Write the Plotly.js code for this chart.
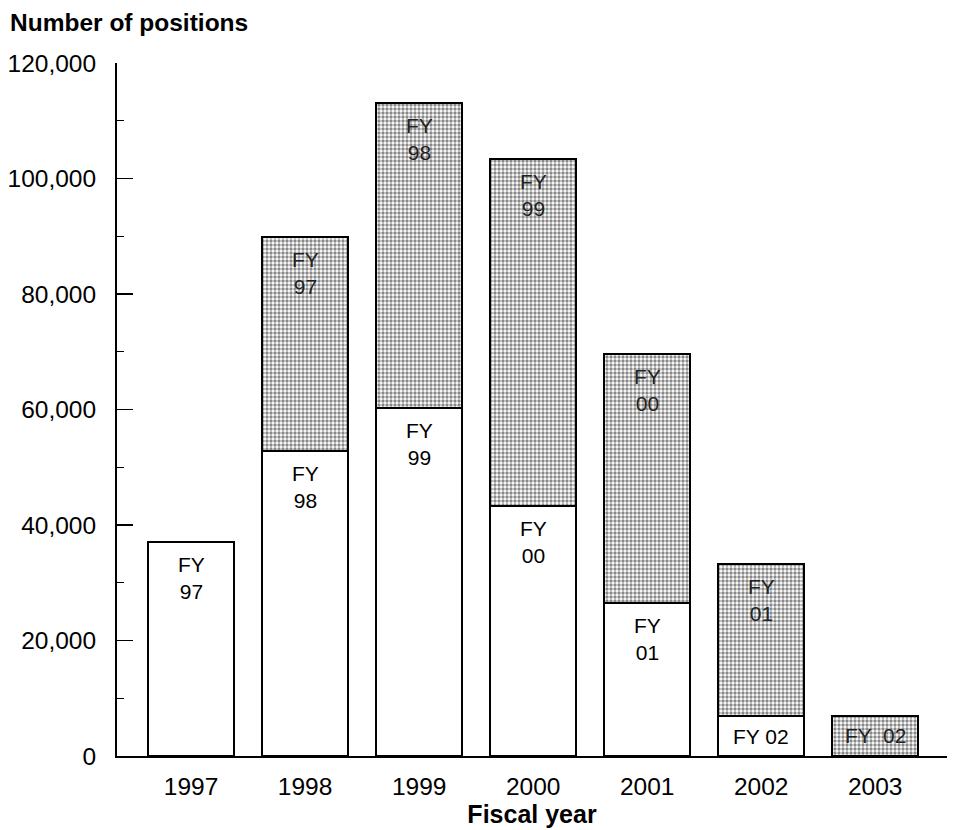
<!DOCTYPE html>
<html>
<head>
<meta charset="utf-8">
<script src="https://cdn.plot.ly/plotly-3.0.1.min.js"></script>
<style>html,body{margin:0;padding:0;background:#fff;}#chart{width:957px;height:830px;}</style>
</head>
<body>
<div id="chart"></div>
<script>
var years = ['1997', '1998', '1999', '2000', '2001', '2002', '2003'];
// positions funded by the current fiscal year (white segment)
var currentYear = [37000, 52800, 60300, 43300, 26500, 6900, null];
// positions carried over from the prior fiscal year (shaded segment)
var carryOver = [null, 37000, 52700, 60100, 43100, 26300, 7000];
var currentLabels = ['FY<br>97', 'FY<br>98', 'FY<br>99', 'FY<br>00', 'FY<br>01', 'FY 02', ''];
var carryLabels = ['', 'FY<br>97', 'FY<br>98', 'FY<br>99', 'FY<br>00', 'FY<br>01', 'FY  02'];
var yTicks = [0, 20000, 40000, 60000, 80000, 100000, 120000];

var FONT = 'Liberation Sans, Arial, Helvetica, sans-serif';

var traces = [
  {
    type: 'bar', x: years, y: currentYear, name: 'Current FY',
    marker: {color: '#ffffff', line: {color: '#000', width: 2}},
    hoverinfo: 'skip'
  },
  {
    type: 'bar', x: years, y: carryOver, name: 'Prior FY',
    marker: {
      color: '#ffffff', line: {color: '#000', width: 2},
      pattern: {shape: '.', fillmode: 'overlay', fgcolor: '#111', size: 4, solidity: 0.55}
    },
    hoverinfo: 'skip'
  }
];

var annotations = [];
years.forEach(function (yr, i) {
  var c = currentYear[i] || 0;
  var p = carryOver[i] || 0;
  if (currentLabels[i]) {
    var single = currentLabels[i].indexOf('<br>') < 0;
    annotations.push({x: i, y: single ? c / 2 : c, xref: 'x', yref: 'y', text: currentLabels[i], showarrow: false,
      yanchor: single ? 'middle' : 'top', yshift: single ? 0 : -9,
      font: {family: FONT, size: 21, color: '#000'}});
  }
  if (carryLabels[i]) {
    var single2 = carryLabels[i].indexOf('<br>') < 0;
    annotations.push({x: i, y: single2 ? c + p / 2 : c + p, xref: 'x', yref: 'y', text: carryLabels[i], showarrow: false,
      yanchor: single2 ? 'middle' : 'top', yshift: single2 ? 0 : -9,
      font: {family: FONT, size: 21, color: '#222'}});
  }
});

var layout = {
  width: 957, height: 830,
  margin: {l: 117, r: 10, t: 63, b: 74},
  paper_bgcolor: '#fff', plot_bgcolor: '#fff',
  barmode: 'stack', bargap: 0.245,
  showlegend: false,
  font: {family: FONT, size: 24, color: '#000'},
  title: {text: '<b>Number of positions</b>', x: 10 / 957, xanchor: 'left', xref: 'container',
    y: 1 - 22 / 830, yanchor: 'middle', yref: 'container', font: {family: FONT, size: 24.5, color: '#000'}},
  xaxis: {
    type: 'category', range: [-0.65, 6.63],
    showline: true, linecolor: '#000', linewidth: 2, ticks: '', showgrid: false, zeroline: false,
    tickfont: {family: FONT, size: 24.5, color: '#000'}, ticklabelstandoff: 8,
    title: {text: '<b>Fiscal year</b>', font: {family: FONT, size: 25, color: '#000'}, standoff: 2}
  },
  yaxis: {
    range: [0, 120000], tickvals: yTicks, tickformat: ',d',
    showline: true, linecolor: '#000', linewidth: 2, showgrid: false, zeroline: false,
    ticks: 'inside', ticklen: 16, tickwidth: 1.5, tickcolor: '#000',
    minor: {dtick: 10000, ticks: 'inside', ticklen: 7, tickwidth: 1, tickcolor: '#000', showgrid: false},
    tickfont: {family: FONT, size: 24.5, color: '#000'}, ticklabelstandoff: 14
  },
  annotations: annotations
};

Plotly.newPlot('chart', traces, layout, {staticPlot: true, displayModeBar: false});
</script>
</body>
</html>
